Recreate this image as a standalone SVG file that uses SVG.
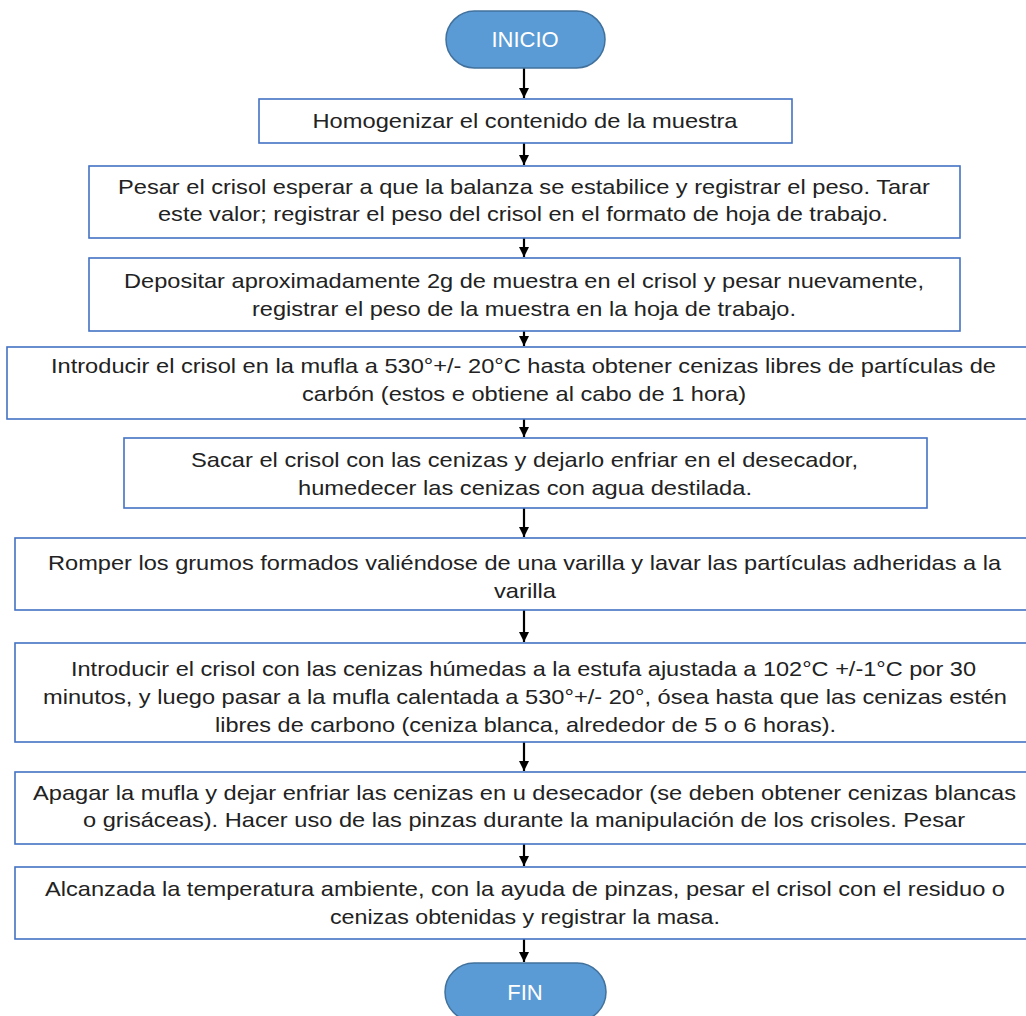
<svg xmlns="http://www.w3.org/2000/svg" width="1026" height="1016" viewBox="0 0 1026 1016">
<style>
.box{fill:#ffffff;stroke:#4472C4;stroke-width:1.6}
.pill{fill:#5B9BD5;stroke:#41719C;stroke-width:1.5}
.t{font-family:"Liberation Sans",Arial,sans-serif;font-size:21px;fill:#222222;text-anchor:middle}
.pt{font-family:"Liberation Sans",Arial,sans-serif;font-size:22px;fill:#ffffff;text-anchor:middle}
.c{stroke:#000000;stroke-width:2.2;fill:none}
</style>
<defs>
<marker id="ah" viewBox="0 0 10 10" refX="10" refY="5" markerWidth="10" markerHeight="10" markerUnits="userSpaceOnUse" orient="auto">
<path d="M0,0 L10,5 L0,10 z" fill="#000000"/>
</marker>
</defs>
<rect width="1026" height="1016" fill="#ffffff"/>
<g id="connectors">
<line class="c" x1="524" y1="68" x2="524" y2="98" marker-end="url(#ah)"/>
<line class="c" x1="524" y1="143" x2="524" y2="165" marker-end="url(#ah)"/>
<line class="c" x1="524" y1="238" x2="524" y2="257" marker-end="url(#ah)"/>
<line class="c" x1="524" y1="331" x2="524" y2="346" marker-end="url(#ah)"/>
<line class="c" x1="524" y1="419" x2="524" y2="437" marker-end="url(#ah)"/>
<line class="c" x1="524" y1="508" x2="524" y2="537" marker-end="url(#ah)"/>
<line class="c" x1="524" y1="610" x2="524" y2="642" marker-end="url(#ah)"/>
<line class="c" x1="524" y1="742" x2="524" y2="771" marker-end="url(#ah)"/>
<line class="c" x1="524" y1="844" x2="524" y2="866" marker-end="url(#ah)"/>
<line class="c" x1="524" y1="939" x2="524" y2="962" marker-end="url(#ah)"/>
</g>
<g id="inicio">
<rect class="pill" x="446" y="11" width="159" height="57" rx="28.5"/>
<text class="pt" x="525" y="47">INICIO</text>
</g>
<g id="step1">
<rect class="box" x="259" y="99" width="533" height="44"/>
<text class="t" x="525" y="128" textLength="425" lengthAdjust="spacingAndGlyphs">Homogenizar el contenido de la muestra</text>
</g>
<g id="step2">
<rect class="box" x="89" y="166" width="871" height="72"/>
<text class="t" x="524" y="194" textLength="812" lengthAdjust="spacingAndGlyphs">Pesar el crisol esperar a que la balanza se estabilice y registrar el peso. Tarar</text>
<text class="t" x="523" y="221" textLength="730" lengthAdjust="spacingAndGlyphs">este valor; registrar el peso del crisol en el formato de hoja de trabajo.</text>
</g>
<g id="step3">
<rect class="box" x="89" y="258" width="871" height="73"/>
<text class="t" x="524" y="288" textLength="800" lengthAdjust="spacingAndGlyphs">Depositar aproximadamente 2g de muestra en el crisol y pesar nuevamente,</text>
<text class="t" x="524" y="316" textLength="544" lengthAdjust="spacingAndGlyphs">registrar el peso de la muestra en la hoja de trabajo.</text>
</g>
<g id="step4">
<rect class="box" x="7" y="347" width="1035" height="72"/>
<text class="t" x="523.5" y="373" textLength="945" lengthAdjust="spacingAndGlyphs">Introducir el crisol en la mufla a 530°+/- 20°C hasta obtener cenizas libres de partículas de</text>
<text class="t" x="524" y="401" textLength="444" lengthAdjust="spacingAndGlyphs">carbón (estos e obtiene al cabo de 1 hora)</text>
</g>
<g id="step5">
<rect class="box" x="124" y="438" width="803" height="70"/>
<text class="t" x="524.5" y="467" textLength="667" lengthAdjust="spacingAndGlyphs">Sacar el crisol con las cenizas y dejarlo enfriar en el desecador,</text>
<text class="t" x="525" y="495" textLength="454" lengthAdjust="spacingAndGlyphs">humedecer las cenizas con agua destilada.</text>
</g>
<g id="step6">
<rect class="box" x="15" y="538" width="1019" height="72"/>
<text class="t" x="524.5" y="570" textLength="953" lengthAdjust="spacingAndGlyphs">Romper los grumos formados valiéndose de una varilla y lavar las partículas adheridas a la</text>
<text class="t" x="525" y="598" textLength="62" lengthAdjust="spacingAndGlyphs">varilla</text>
</g>
<g id="step7">
<rect class="box" x="15" y="643" width="1019" height="99"/>
<text class="t" x="523.5" y="676" textLength="905" lengthAdjust="spacingAndGlyphs">Introducir el crisol con las cenizas húmedas a la estufa ajustada a 102°C +/-1°C por 30</text>
<text class="t" x="525" y="704" textLength="964" lengthAdjust="spacingAndGlyphs">minutos, y luego pasar a la mufla calentada a 530°+/- 20°, ósea hasta que las cenizas estén</text>
<text class="t" x="525.5" y="732" textLength="621" lengthAdjust="spacingAndGlyphs">libres de carbono (ceniza blanca, alrededor de 5 o 6 horas).</text>
</g>
<g id="step8">
<rect class="box" x="15" y="772" width="1019" height="72"/>
<text class="t" x="524.5" y="800" textLength="983" lengthAdjust="spacingAndGlyphs">Apagar la mufla y dejar enfriar las cenizas en u desecador (se deben obtener cenizas blancas</text>
<text class="t" x="524" y="827" textLength="882" lengthAdjust="spacingAndGlyphs">o grisáceas). Hacer uso de las pinzas durante la manipulación de los crisoles. Pesar</text>
</g>
<g id="step9">
<rect class="box" x="15" y="867" width="1019" height="72"/>
<text class="t" x="525" y="896" textLength="960" lengthAdjust="spacingAndGlyphs">Alcanzada la temperatura ambiente, con la ayuda de pinzas, pesar el crisol con el residuo o</text>
<text class="t" x="525" y="924" textLength="390" lengthAdjust="spacingAndGlyphs">cenizas obtenidas y registrar la masa.</text>
</g>
<g id="fin">
<rect class="pill" x="445" y="963" width="161" height="58" rx="29"/>
<text class="pt" x="525" y="1000">FIN</text>
</g>
</svg>
